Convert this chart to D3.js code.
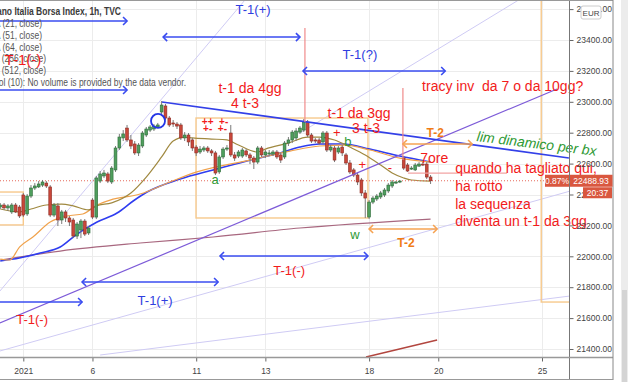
<!DOCTYPE html>
<html>
<head>
<meta charset="utf-8">
<script src="https://cdn.jsdelivr.net/npm/d3@7"></script>
<style>
body { margin: 0; background: #fff; }
svg { display: block; font-family: "Liberation Sans", Arial, sans-serif; }
text { white-space: pre; }
</style>
</head>
<body>
<svg id="chart" width="640" height="382"></svg>
<script>
// hourly bars, index 0 = 4 Jan 2021 09:00, 9 bars per session
const firstBar = -6;
const candles = [ // [open, high, low, close]
  [22319,22345,22306,22332],[22332,22345,22300,22313],[22313,22338,22293,22326],
  [22287,22345,22274,22332],[22332,22345,22280,22287],[22319,22332,22248,22261],
  [22397,22410,22254,22267],[22274,22403,22261,22390],[22390,22461,22377,22442],
  [22442,22474,22429,22455],[22449,22487,22442,22468],[22461,22494,22449,22481],
  [22474,22487,22442,22455],[22449,22461,22254,22267],[22267,22345,22254,22332],
  [22326,22345,22196,22235],[22235,22300,22209,22287],[22287,22300,22222,22248],
  [22248,22261,22196,22222],[22235,22248,22118,22131],[22131,22222,22112,22209],
  [22170,22241,22118,22228],[22228,22241,22131,22144],[22151,22196,22138,22183],
  [22364,22377,22241,22254],[22254,22520,22241,22507],[22487,22552,22474,22533],
  [22520,22559,22507,22539],[22533,22546,22474,22487],[22481,22584,22468,22571],
  [22559,22714,22546,22701],[22701,22792,22688,22772],[22766,22817,22746,22792],
  [22830,22850,22740,22753],[22753,22785,22694,22714],[22727,22746,22656,22669],
  [22669,22733,22649,22720],[22714,22811,22701,22798],[22785,22837,22772,22824],
  [22817,22850,22804,22837],[22824,22856,22811,22843],[22837,22863,22830,22850],
  [22934,23005,22921,22979],[22973,22986,22882,22895],[22895,22908,22837,22850],
  [22863,22882,22837,22856],[22856,22869,22824,22843],[22850,22863,22753,22766],
  [22766,22804,22746,22785],[22785,22798,22714,22740],[22753,22766,22682,22701],
  [22707,22720,22649,22669],[22675,22714,22662,22694],[22688,22714,22675,22701],
  [22701,22714,22669,22682],[22682,22694,22649,22669],[22669,22682,22526,22539],
  [22546,22656,22533,22643],[22643,22707,22630,22694],[22694,22720,22682,22701],
  [22798,22850,22643,22656],[22656,22675,22617,22636],[22649,22688,22636,22675],
  [22649,22701,22636,22688],[22682,22694,22643,22656],[22656,22669,22597,22636],
  [22636,22649,22565,22610],[22610,22714,22597,22701],[22701,22714,22643,22656],
  [22656,22688,22636,22675],[22662,22688,22649,22669],[22662,22688,22649,22675],
  [22675,22688,22630,22643],[22656,22669,22604,22623],[22643,22746,22630,22733],
  [22733,22772,22714,22753],[22753,22817,22733,22804],[22766,22830,22746,22811],
  [22804,22843,22792,22830],[22817,22889,22804,22869],[22869,22882,22772,22785],
  [22785,22798,22733,22746],[22753,22766,22733,22746],[22753,22766,22720,22733],
  [22740,22811,22727,22798],[22798,22811,22675,22688],[22688,22720,22675,22707],
  [22701,22714,22610,22623],[22675,22714,22662,22701],[22707,22720,22649,22669],
  [22656,22669,22591,22604],[22604,22623,22533,22546],[22559,22571,22513,22526],
  [22526,22539,22461,22481],[22494,22507,22390,22410],[22410,22429,22248,22377],
  [22254,22364,22241,22351],[22351,22390,22338,22377],[22371,22403,22358,22390],
  [22384,22423,22371,22410],[22397,22442,22384,22429],[22423,22474,22410,22461],
  [22455,22494,22442,22481],[22474,22487,22468,22481],[22481,22494,22474,22487],
  [22636,22649,22559,22571],[22591,22604,22546,22552],[22565,22584,22559,22571],
  [22559,22604,22552,22591],[22584,22610,22578,22597],[22597,22610,22584,22591],
  [22597,22610,22500,22513],[22513,22526,22468,22488.93]
];
const lastPrice = 22488.93;

// moving averages, [bar, price]
const ma21 = [[-6,22306],[-1,22287],[2,22306],[6,22332],[10,22338],[13,22326],[17,22300],[19,22326],
  [23,22346],[28,22410],[32,22513],[36,22643],[39,22746],[42,22772],[44,22766],[49,22759],[53,22753],
  [56,22720],[61,22675],[63,22694],[69,22733],[74,22772],[77,22772],[81,22753],[85,22707],[89,22656],
  [93,22591],[96,22539],[99,22507],[101,22494],[106,22487]];
const ma51 = [[-6,21982],[-3.5,21976],[-1,22060],[2.5,22125],[7,22222],[11.4,22261],[15.5,22274],
  [19.2,22332],[22.6,22364],[30.4,22403],[38.2,22481],[45.2,22546],[59,22623],[69.4,22681],
  [77.2,22714],[83.7,22720],[90.2,22688],[98,22636],[106,22610]];
const ma64 = [[-6,21970],[-1,21989],[4.4,22021],[9.6,22060],[14,22144],[19.2,22222],[24.4,22280],
  [28.6,22358],[32.2,22416],[40.8,22500],[49.4,22559],[58.2,22617],[66.8,22669],[72,22707],
  [77.2,22727],[83.2,22727],[90.2,22694],[98,22649],[106,22610]];
const ma256 = [[-6,21976],[9.6,22034],[30.4,22086],[49.4,22125],[72,22183],[106,22241]];

// axis
const tickBars = [0, 18, 45, 63, 90, 108, 135];
const tickLabels = ["2021", "6", "11", "13", "18", "20", "25"];
const priceTicks = d3.range(21400, 23601, 200);

// drawings: [bar, price]
const trendUpper = [[36.1,22999],[142,22636]];
const purpleLine = [[-6.1,21568],[138.9,23083]];
const faintLines = [
  [[-6.1,21775],[57.7,23659]],
  [[-6.1,21387],[142.3,22422]],
  [[20,21361],[142.3,21743]],
  [[72,22798],[131.9,23704]]
];
const redVerticals = [[[73.3,23478],[73.3,22869]], [[98.8,23089],[98.8,22623]]];
const pinkLevel = [[100.1,22539],[125.9,22539]];
const darkRedSeg = [[89.2,21348],[107.7,21458]];
const boxes = [
  [[-8.7,22416],[0,22203]],
  [[44.95,22895],[89.7,22248]],
  [[134.8,23723],[176,21704]]
];
const blueArrows = [
  {x1:-7.4, x2:27, p:23523, heads:"end"},
  {x1:-7.4, x2:27, p:23076, heads:"end"},
  {x1:36.4, x2:72, p:23419, heads:"both"},
  {x1:72.8, x2:109.8, p:23199, heads:"both"},
  {x1:-7.4, x2:15.3, p:21704, heads:"end"},
  {x1:15.3, x2:50.7, p:21834, heads:"both"},
  {x1:51.2, x2:89.7, p:22002, heads:"both"}
];
const orangeArrows = [
  {x1:98.8, x2:116.8, p:22727, heads:"both"},
  {x1:90, x2:107.7, p:22177, heads:"both"}
];
const circleAt = [35.06, 22876];

const RED = "#f21b1b", BLUE = "#2f3ee0", GREEN = "#2f9a35", ORANGE = "#f07c16";
const notes = [
  {t:"t-1 da 4gg", b:59.0, p:23054, c:RED, s:14, a:"middle"},
  {t:"4 t-3", b:57.7, p:22957, c:RED, s:14, a:"middle"},
  {t:"t-1 da 3gg", b:87.4, p:22892, c:RED, s:14, a:"middle"},
  {t:"3 t-3", b:89.2, p:22795, c:RED, s:14, a:"middle"},
  {t:"tracy inv  da 7 o da 10gg?", b:103.8, p:23073, c:RED, s:14, a:"start"},
  {t:"7ore", b:103.3, p:22607, c:RED, s:14, a:"start"},
  {t:"quando ha tagliato qui,", b:112.4, p:22536, c:RED, s:14, a:"start"},
  {t:"ha rotto", b:112.4, p:22423, c:RED, s:14, a:"start"},
  {t:"la sequenza", b:112.4, p:22309, c:RED, s:14, a:"start"},
  {t:"diventa un t-1 da 3gg", b:112.4, p:22197, c:RED, s:14, a:"start"},
  {t:"T-1(+)", b:59.8, p:23571, c:BLUE, s:13, a:"middle"},
  {t:"T-1(?)", b:87.6, p:23280, c:BLUE, s:13, a:"middle"},
  {t:"T-1(+)", b:34.3, p:21688, c:BLUE, s:13, a:"middle"},
  {t:"T-1(-)", b:69.2, p:21876, c:RED, s:13, a:"middle"},
  {t:"T-1(-)", b:2.3, p:21559, c:RED, s:13, a:"middle"},
  {t:"T-1(-)", b:-0.1, p:23235, c:RED, s:15, a:"middle"},
  {t:"T-2", b:107.2, p:22772, c:ORANGE, s:12, a:"middle", w:"bold"},
  {t:"T-2", b:99.6, p:22062, c:ORANGE, s:12, a:"middle", w:"bold"},
  {t:"++  +-", b:49.9, p:22853, c:RED, s:10, a:"middle", w:"bold"},
  {t:"+-  +-", b:49.9, p:22804, c:RED, s:10, a:"middle", w:"bold"},
  {t:"+", b:81.6, p:22772, c:RED, s:13, a:"middle"},
  {t:"+", b:88.2, p:22565, c:RED, s:13, a:"middle"},
  {t:"-", b:95.4, p:22546, c:RED, s:13, a:"middle"},
  {t:"b", b:84.5, p:22711, c:GREEN, s:13, a:"middle"},
  {t:"a", b:49.9, p:22465, c:GREEN, s:13, a:"middle"},
  {t:"w", b:86.3, p:22115, c:GREEN, s:13, a:"middle"},
  {t:"lim dinamico per bx", b:117.9, p:22746, c:GREEN, s:14, a:"start", i:true, r:7}
];

const legendLines = [
  {t:"FTSE Milano Italia Borsa Index, 1h, TVC", end:121, bold:true},
  {t:"MA (21, close)", end:42},
  {t:"MA (51, close)", end:42},
  {t:"MA (64, close)", end:42},
  {t:"MA (256, close)", end:46},
  {t:"MA (512, close)", end:46},
  {t:"Vol (10): No volume is provided by the data vendor.", end:186}
];

const W = 640, H = 382, plotR = 569.5, plotB = 357.5, frameR = 613;
const svg = d3.select("#chart");
const x = d3.scaleLinear().domain([0, 135]).range([23.3, 542]);
const y = d3.scaleLinear().domain([21400, 23400]).range([349, 40]);

svg.append("defs").append("clipPath").attr("id", "pane")
  .append("rect").attr("x", 0).attr("y", 0).attr("width", plotR).attr("height", plotB);

// right side strip
svg.append("rect").attr("x", 621).attr("y", 0).attr("width", 7).attr("height", H).attr("fill", "#ececec");
svg.append("rect").attr("x", 622).attr("y", 290).attr("width", 5).attr("height", 92).attr("fill", "#d4d4d4");

const pane = svg.append("g").attr("clip-path", "url(#pane)");

// grid
pane.selectAll(".hg").data(d3.range(21400, 23801, 200)).enter().append("line")
  .attr("x1", 0).attr("x2", plotR).attr("y1", d => Math.round(y(d)) + 0.5).attr("y2", d => Math.round(y(d)) + 0.5)
  .attr("stroke", "#ececec");
pane.selectAll(".vg").data(tickBars).enter().append("line")
  .attr("y1", 0).attr("y2", plotB).attr("x1", d => Math.round(x(d)) + 0.5).attr("x2", d => Math.round(x(d)) + 0.5)
  .attr("stroke", "#ececec");

const line = d3.line().x(d => x(d[0])).y(d => y(d[1]));
const curve = d3.line().x(d => x(d[0])).y(d => y(d[1])).curve(d3.curveMonotoneX);

function seg(g, pts, color, w, dash) {
  return g.append("path").attr("d", line(pts)).attr("fill", "none")
    .attr("stroke", color).attr("stroke-width", w).attr("stroke-dasharray", dash || null);
}

// light fan lines
faintLines.forEach(l => seg(pane, l, "#cfcbf4", 1));

// boxes
boxes.forEach(bx => {
  const x0 = x(bx[0][0]), x1 = x(bx[1][0]), y0 = y(bx[0][1]), y1 = y(bx[1][1]);
  pane.append("rect").attr("x", x0).attr("y", y0).attr("width", x1 - x0).attr("height", y1 - y0)
    .attr("fill", "none").attr("stroke", "#f7c98c").attr("stroke-width", 1.4);
});

// moving averages
[[ma256, "#a8677f", 1.2], [ma64, "#2f3df0", 1.6], [ma51, "#f0a24c", 1.2], [ma21, "#a08940", 1.2]]
  .forEach(([pts, c, w]) => pane.append("path").attr("d", curve(pts)).attr("fill", "none")
    .attr("stroke", c).attr("stroke-width", w));

// last price dotted
pane.append("line").attr("x1", 0).attr("x2", plotR).attr("y1", y(lastPrice)).attr("y2", y(lastPrice))
  .attr("stroke", "#e5685a").attr("stroke-dasharray", "1,2");

// candles
const bars = candles.map((c, i) => ({i: i + firstBar, o: c[0], h: c[1], l: c[2], c: c[3]}));
const bw = 2.8;
const cg = pane.append("g");
cg.selectAll(".wick").data(bars).enter().append("line")
  .attr("x1", d => x(d.i)).attr("x2", d => x(d.i))
  .attr("y1", d => y(d.h)).attr("y2", d => y(d.l))
  .attr("stroke", "#7a7a7a").attr("stroke-width", 1);
cg.selectAll(".body").data(bars).enter().append("rect")
  .attr("x", d => x(d.i) - bw / 2).attr("width", bw)
  .attr("y", d => y(Math.max(d.o, d.c)))
  .attr("height", d => Math.max(1, Math.abs(y(d.o) - y(d.c))))
  .attr("fill", d => d.c >= d.o ? "#4f9e5d" : "#c9473a")
  .attr("stroke", d => d.c >= d.o ? "#2d6b39" : "#8c2b22").attr("stroke-width", 0.6);

// drawings
seg(pane, purpleLine, "#7d5bd8", 1.2);
seg(pane, trendUpper, "#3340e8", 1.6);
redVerticals.forEach(l => seg(pane, l, "#f08a8a", 1.2));
seg(pane, pinkLevel, "#f2a3a3", 1.2);
seg(pane, darkRedSeg, "#b2463f", 1.5);

function arrow(a, color) {
  const x1 = x(a.x1), x2 = x(a.x2), yy = y(a.p);
  const g = pane.append("g").attr("stroke", color).attr("stroke-width", 1.6).attr("fill", "none");
  g.append("line").attr("x1", x1).attr("x2", x2).attr("y1", yy).attr("y2", yy);
  g.append("path").attr("d", `M${x2 - 4},${yy - 4}L${x2},${yy}L${x2 - 4},${yy + 4}`);
  if (a.heads === "both") g.append("path").attr("d", `M${x1 + 4},${yy - 4}L${x1},${yy}L${x1 + 4},${yy + 4}`);
}
blueArrows.forEach(a => arrow(a, "#3a4cf0"));
orangeArrows.forEach(a => arrow(a, "#f6a352"));

pane.append("circle").attr("cx", x(circleAt[0])).attr("cy", y(circleAt[1])).attr("r", 7)
  .attr("fill", "none").attr("stroke", "#2335e6").attr("stroke-width", 1.8);

// legend (condensed like the terminal font)
const legScale = 0.85;
svg.append("g").attr("transform", `scale(${legScale},1)`)
  .selectAll(".leg").data(legendLines).enter().append("text")
  .attr("x", d => d.end / legScale).attr("y", (d, i) => 15.5 + i * 11.7)
  .attr("text-anchor", "end").attr("font-size", 10)
  .attr("font-weight", d => d.bold ? "bold" : null)
  .attr("fill", d => d.bold ? "#3a3a3a" : "#555").text(d => d.t);

// annotations text
svg.selectAll(".note").data(notes).enter().append("text")
  .attr("transform", d => `translate(${x(d.b)},${y(d.p)})` + (d.r ? ` rotate(${d.r})` : ""))
  .attr("text-anchor", d => d.a).attr("font-size", d => d.s)
  .attr("font-weight", d => d.w || null).attr("font-style", d => d.i ? "italic" : null)
  .attr("fill", d => d.c).text(d => d.t);

// axes
const ya = svg.append("g").attr("transform", `translate(${plotR},0)`)
  .call(d3.axisRight(y).tickValues(priceTicks).tickSize(4).tickFormat(d => d.toFixed(2)));
ya.select(".domain").remove();
ya.selectAll("line").attr("stroke", "#666");
ya.selectAll("text").attr("font-size", 8.5).attr("fill", "#444").attr("font-family", "Liberation Sans, Arial");

const xa = svg.append("g").attr("transform", `translate(0,${plotB})`)
  .call(d3.axisBottom(x).tickValues(tickBars).tickSize(4).tickFormat((d, i) => tickLabels[i]));
xa.select(".domain").remove();
xa.selectAll("line").attr("stroke", "#666");
xa.selectAll("text").attr("font-size", 8.5).attr("fill", "#444").attr("dy", "1.1em").attr("font-family", "Liberation Sans, Arial");

// frame
svg.append("line").attr("x1", plotR).attr("x2", plotR).attr("y1", 0).attr("y2", 380).attr("stroke", "#777");
svg.append("line").attr("x1", 0).attr("x2", frameR).attr("y1", plotB).attr("y2", plotB).attr("stroke", "#999").attr("stroke-width", 1.5);
svg.append("line").attr("x1", 0).attr("x2", frameR).attr("y1", 0.5).attr("y2", 0.5).attr("stroke", "#999");
svg.append("line").attr("x1", frameR).attr("x2", frameR).attr("y1", 0).attr("y2", 380).attr("stroke", "#888");
svg.append("line").attr("x1", 0).attr("x2", frameR).attr("y1", 379.5).attr("y2", 379.5).attr("stroke", "#999");

// EUR tag
svg.append("rect").attr("x", 581).attr("y", 6).attr("width", 20).attr("height", 13).attr("rx", 2)
  .attr("fill", "#fff").attr("stroke", "#ccc");
svg.append("text").attr("x", 591).attr("y", 15.5).attr("text-anchor", "middle").attr("font-size", 8)
  .attr("fill", "#444").text("EUR");

// last price labels
const ly = y(lastPrice);
svg.append("rect").attr("x", 545).attr("y", ly - 6).attr("width", 24).attr("height", 12).attr("fill", "#d9573f");
svg.append("text").attr("x", 557).attr("y", ly + 3).attr("text-anchor", "middle").attr("font-size", 8.5)
  .attr("fill", "#fff").text("0.87%");
svg.append("rect").attr("x", plotR + 0.5).attr("y", ly - 6).attr("width", frameR - plotR - 1).attr("height", 12).attr("fill", "#d9573f");
svg.append("text").attr("x", 591).attr("y", ly + 3).attr("text-anchor", "middle").attr("font-size", 8.5)
  .attr("fill", "#fff").text(d3.format(".2f")(lastPrice));
svg.append("rect").attr("x", 583).attr("y", ly + 6.5).attr("width", 29).attr("height", 11).attr("fill", "#d9573f");
svg.append("text").attr("x", 597.5).attr("y", ly + 15).attr("text-anchor", "middle").attr("font-size", 8.5)
  .attr("fill", "#fff").text("20:37");
</script>
</body>
</html>
